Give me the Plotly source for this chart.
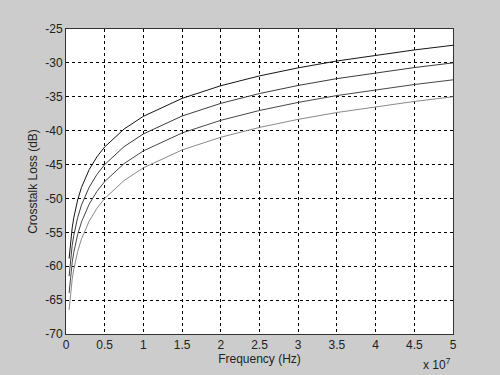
import plotly.graph_objects as go

freq_hz = [4e5, 6e5, 8e5, 1e6, 1.5e6, 2e6, 3e6, 4e6, 5e6, 7.5e6, 1e7,
           1.5e7, 2e7, 2.5e7, 3e7, 3.5e7, 4e7, 4.5e7, 5e7]

loss_1 = [-58.86, -56.21, -54.34, -52.88, -50.24, -48.37, -45.73, -43.85, -42.40, -39.76,
          -37.88, -35.24, -33.37, -31.92, -30.73, -29.72, -28.85, -28.09, -27.40]
loss_2 = [-61.46, -58.81, -56.94, -55.48, -52.84, -50.97, -48.33, -46.45, -45.00, -42.36,
          -40.48, -37.84, -35.97, -34.52, -33.33, -32.32, -31.45, -30.69, -30.00]
loss_3 = [-63.96, -61.31, -59.44, -57.98, -55.34, -53.47, -50.83, -48.95, -47.50, -44.86,
          -42.98, -40.34, -38.47, -37.02, -35.83, -34.82, -33.95, -33.19, -32.50]
loss_4 = [-66.46, -63.81, -61.94, -60.48, -57.84, -55.97, -53.33, -51.45, -50.00, -47.36,
          -45.48, -42.84, -40.97, -39.52, -38.33, -37.32, -36.45, -35.69, -35.00]

x_tick_vals = [0, 0.5e7, 1e7, 1.5e7, 2e7, 2.5e7, 3e7, 3.5e7, 4e7, 4.5e7, 5e7]
x_tick_text = ["0", "0.5", "1", "1.5", "2", "2.5", "3", "3.5", "4", "4.5", "5"]
y_tick_vals = [-70, -65, -60, -55, -50, -45, -40, -35, -30, -25]
y_tick_text = ["-70", "-65", "-60", "-55", "-50", "-45", "-40", "-35", "-30", "-25"]

series = [loss_1, loss_2, loss_3, loss_4]
colors = ["#151515", "#3c3c3c", "#474747", "#8a8a8a"]

fig = go.Figure()
for ys, c in zip(series, colors):
    fig.add_trace(go.Scatter(x=freq_hz, y=ys, mode="lines",
                             line=dict(color=c, width=1), showlegend=False))

font = dict(family="Liberation Sans, Arial, sans-serif", size=12, color="#222222")
fig.update_layout(
    width=500, height=375,
    margin=dict(l=66, r=47, t=29, b=41),
    paper_bgcolor="#cccccc",
    plot_bgcolor="#ffffff",
    font=font,
    xaxis=dict(range=[0, 5e7], tickvals=x_tick_vals, ticktext=x_tick_text,
               showgrid=True, gridcolor="#000000", gridwidth=1, griddash="3px,3px",
               zeroline=False, showline=True, linecolor="#333333", linewidth=1, mirror=True,
               ticks="", title=dict(text="Frequency (Hz)", standoff=3, font=font)),
    yaxis=dict(range=[-70, -25], tickvals=y_tick_vals, ticktext=y_tick_text,
               showgrid=True, gridcolor="#000000", gridwidth=1, griddash="3px,3px",
               zeroline=False, showline=True, linecolor="#333333", linewidth=1, mirror=True,
               ticks="", title=dict(text="Crosstalk Loss (dB)", standoff=5, font=font)),
    annotations=[dict(text="x 10<sup>7</sup>", xref="paper", yref="paper",
                      x=1.0, y=-0.098, xanchor="right", yanchor="middle",
                      showarrow=False, font=font)],
)

fig.write_html("out.html")
